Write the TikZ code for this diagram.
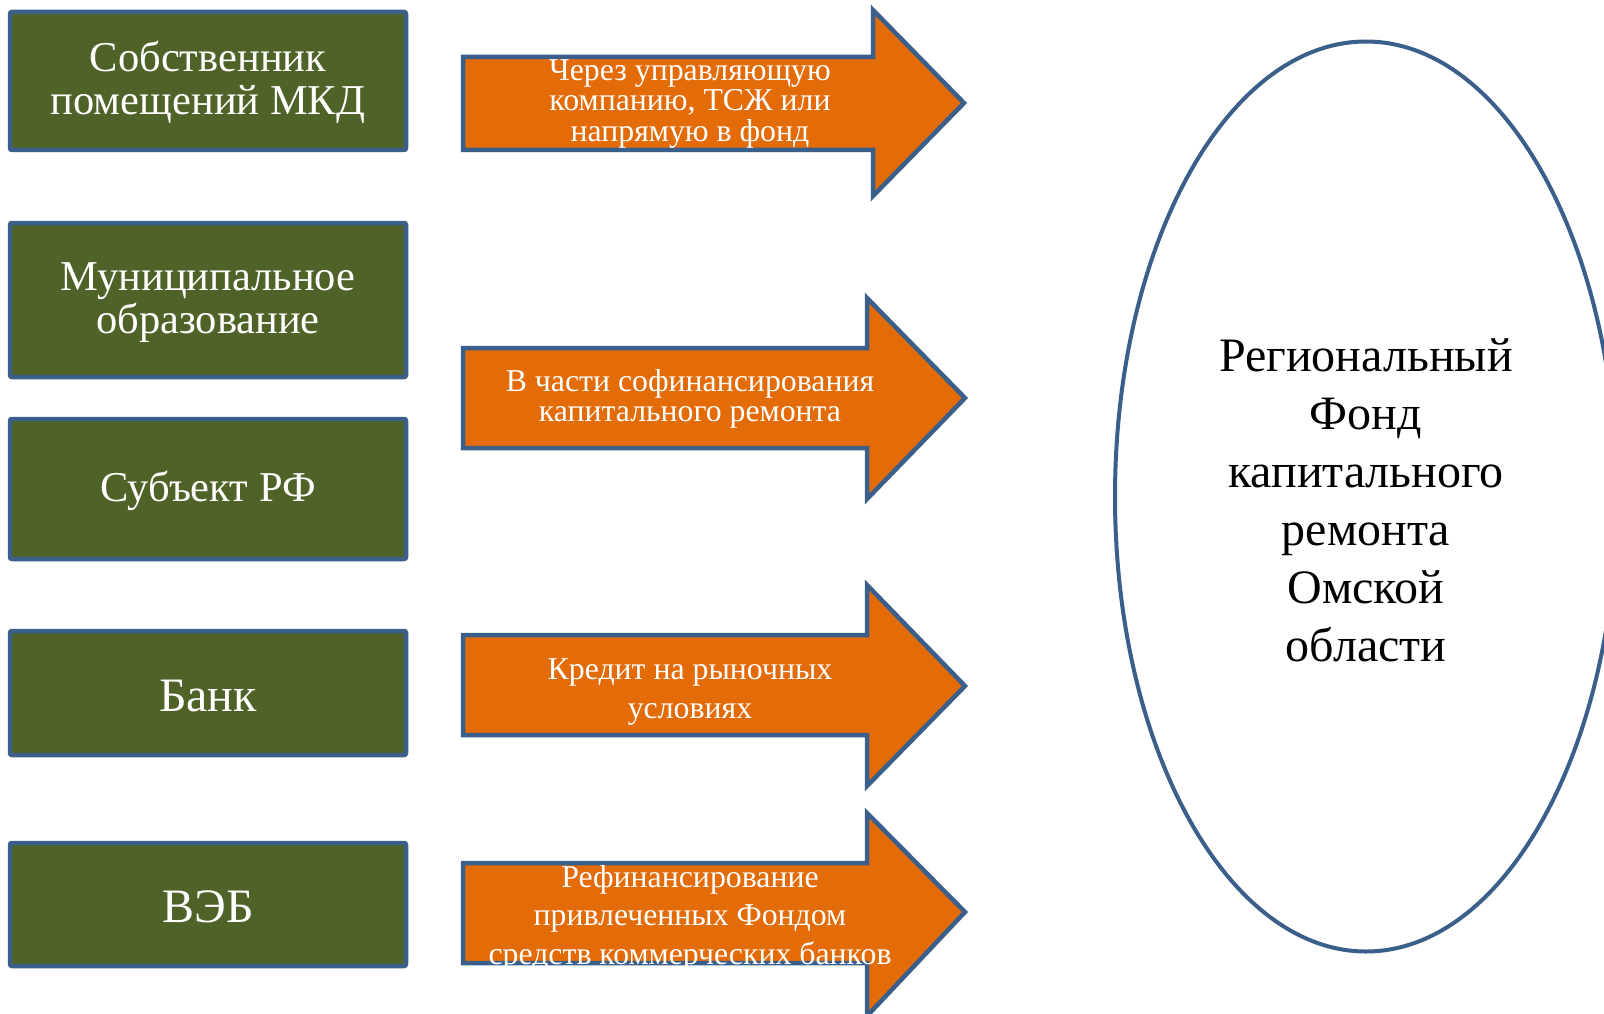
\documentclass[tikz,border=0pt]{standalone}
\usepackage{fontspec}
\setmainfont{Liberation Serif}
\definecolor{boxgreen}{HTML}{4F6228}
\definecolor{edgeblue}{HTML}{3A5F8B}
\definecolor{arroworange}{HTML}{E36C09}
\begin{document}
\begin{tikzpicture}[x=1pt,y=-1pt,
  srcbox/.style={draw=edgeblue,line width=4.5pt,fill=boxgreen,rounded corners=2pt},
  srctext/.style={text=white,align=center,font=\fontsize{42.5}{43}\selectfont},
  bigtext/.style={text=white,align=center,font=\fontsize{48}{49}\selectfont},
  flowarrow/.style={draw=edgeblue,line width=4.5pt,fill=arroworange,line join=miter},
  arrtext/.style={text=white,align=center,font=\fontsize{31.8}{30.5}\selectfont},
  arrtextb/.style={text=white,align=center,font=\fontsize{31.8}{38.5}\selectfont},
  fundtext/.style={text=black,align=center,font=\fontsize{48}{58}\selectfont}]
\useasboundingbox (0,0) rectangle (1604,1014);
\begin{scope}
\clip (0,0) rectangle (1604,1014);
% source boxes
\draw[srcbox] (10,12) rectangle (406,150);
\node[srctext] (owner) at (208,82) {Собственник\\помещений МКД};
\draw[srcbox] (10,223) rectangle (406,377);
\node[srctext] (mun) at (208,303) {Муниципальное\\образование};
\draw[srcbox] (10,419) rectangle (406,559);
\node[srctext] (subj) at (208,491) {Субъект РФ};
\draw[srcbox] (10,631) rectangle (406,755);
\node[bigtext] (bank) at (208,696) {Банк};
\draw[srcbox] (10,843) rectangle (406,966);
\node[bigtext] (veb) at (208,907) {ВЭБ};
% arrows
\draw[flowarrow] (463,57) -- (873,57) -- (873,10) -- (964,103) -- (873,196) -- (873,150) -- (463,150) -- cycle;
\node[arrtext] (a1) at (690,104) {Через управляющую\\компанию, ТСЖ или\\напрямую в фонд};
\draw[flowarrow] (463,348) -- (867,348) -- (867,298) -- (965,398) -- (867,499) -- (867,448) -- (463,448) -- cycle;
\node[arrtext] (a2) at (690,399) {В части софинансирования\\капитального ремонта};
\draw[flowarrow] (463,635) -- (867,635) -- (867,585) -- (965,686) -- (867,786) -- (867,735) -- (463,735) -- cycle;
\node[arrtextb] (a3) at (690,692) {Кредит на рыночных\\условиях};
\draw[flowarrow] (463,863) -- (867,863) -- (867,813) -- (965,912) -- (867,1016) -- (867,963) -- (463,963) -- cycle;
\node[arrtextb] (a4) at (690,918) {Рефинансирование\\привлеченных Фондом\\средств коммерческих банков};
% fund
\draw[draw=edgeblue,line width=4pt,fill=white] (1366,496.5) ellipse [x radius=251, y radius=455];
\node[fundtext] (fund) at (1366,500) {Региональный\\Фонд\\капитального\\ремонта\\Омской\\области};
\end{scope}
\end{tikzpicture}
\end{document}
